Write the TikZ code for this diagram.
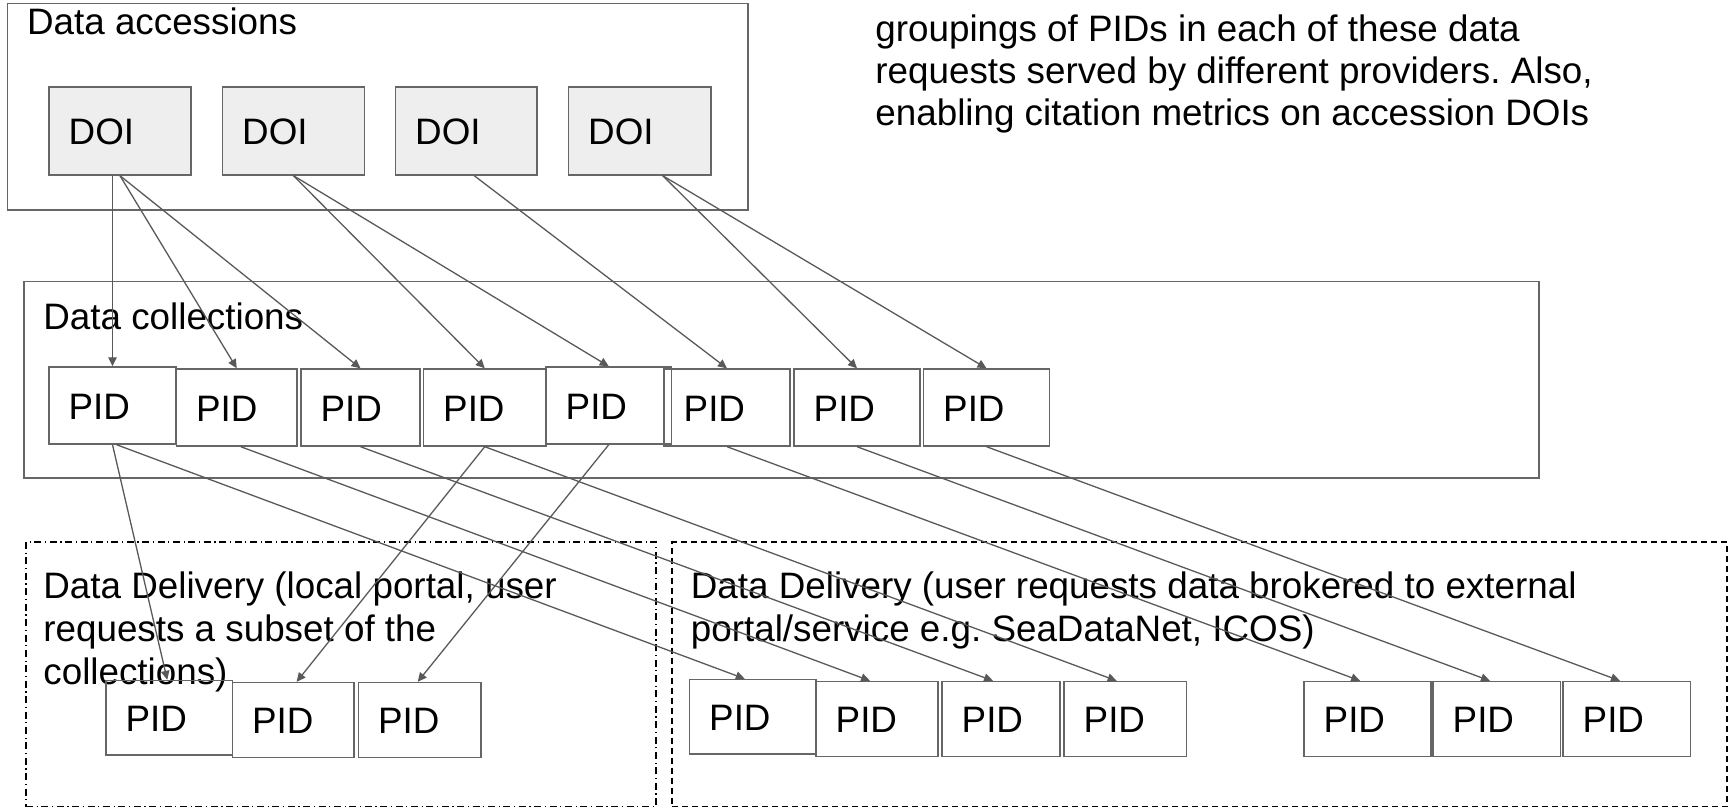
\documentclass[tikz,border=0pt]{standalone}
\usepackage{fontspec}
\setmainfont{Liberation Sans}
\usetikzlibrary{arrows.meta,fit}
\definecolor{edge}{HTML}{666666}
\definecolor{wire}{HTML}{595959}
\definecolor{doifill}{HTML}{EEEEEE}
\newcommand\mkbox[7]{\node[#7, fit={(#2,#3) (#4,#5)}, label={[boxtxt]west:#6}] (#1) {};}
\frenchspacing
\begin{document}
\frenchspacing
\begin{tikzpicture}[x=0.5pt,y=-0.5pt,
  font=\fontsize{18.4pt}{21.5pt}\selectfont\frenchspacing,
  frame/.style={draw=edge, line width=0.7pt, inner sep=0pt, rectangle},
  pid/.style={frame},
  doi/.style={frame, fill=doifill},
  boxtxt/.style={anchor=west, inner sep=0pt, xshift=10pt, yshift=-0.6pt},
  title/.style={anchor=base west, inner sep=0pt},
  para/.style={anchor=north west, inner sep=0pt, align=left},
  link/.style={draw=wire, line width=0.65pt, -{Triangle[length=4.5pt,width=4.2pt]}},
  ddot/.style={draw=black, line width=0.6pt, inner sep=0pt, rectangle, dash pattern=on 3.5pt off 1.8pt on 0.6pt off 1.8pt},
  ddash/.style={draw=black, line width=0.6pt, inner sep=0pt, rectangle, dash pattern=on 3pt off 2pt},
]
\useasboundingbox (0,0) rectangle (1730,808);

% containers
\node[frame, fit={(7.7,3.5) (748,210)}] (acc) {};
\node[frame, fit={(24,281.5) (1539,478)}] (coll) {};
\node[ddot, fit={(26,542) (656,806.5)}] (dloc) {};
\node[ddash, fit={(672,542) (1727,806.5)}] (dext) {};

% titles and note
\node[title] (acct) at (26.7,34.5) {Data accessions};
\node[title] (collt) at (43,329.5) {Data collections};
\node[para] (dloct) at (43,571.5) {Data Delivery (local portal, user\\requests a subset of the\\collections)};
\node[para] (dextt) at (690.5,571.5) {Data Delivery (user requests data brokered to external\\portal/service e.g. SeaDataNet, ICOS)};
\node[para, font=\fontsize{18.4pt}{21pt}\selectfont\frenchspacing] (note) at (875,14.5) {groupings of PIDs in each of these data\\requests served by different providers. Also,\\enabling citation metrics on accession DOIs};

% DOI boxes
\mkbox{d1}{49}{87}{191}{175}{DOI}{doi}
\mkbox{d2}{222.5}{87}{364.5}{175}{DOI}{doi}
\mkbox{d3}{395.5}{87}{537}{175}{DOI}{doi}
\mkbox{d4}{568.5}{87}{711}{175}{DOI}{doi}

% collection PIDs
\mkbox{c1}{49}{367}{176}{444}{PID}{pid}
\mkbox{c2}{176.5}{369}{297}{446}{PID}{pid}
\mkbox{c3}{301}{369}{420}{446}{PID}{pid}
\mkbox{c4}{423.5}{369}{546}{446}{PID}{pid}
\mkbox{c5}{546}{367}{671.5}{444}{PID}{pid}
\mkbox{c6}{664}{369}{790}{446}{PID}{pid}
\mkbox{c7}{794}{369}{920}{446}{PID}{pid}
\mkbox{c8}{923.5}{369}{1049.5}{446}{PID}{pid}

% delivery PIDs
\mkbox{l1}{106}{680.5}{232.5}{755}{PID}{pid}
\mkbox{l2}{232.5}{682.5}{354}{757.5}{PID}{pid}
\mkbox{l3}{358.5}{682.5}{481}{757.5}{PID}{pid}
\mkbox{r1}{689.5}{679.5}{816}{754}{PID}{pid}
\mkbox{r2}{816}{681.5}{938}{756.5}{PID}{pid}
\mkbox{r3}{942}{681.5}{1060}{756.5}{PID}{pid}
\mkbox{r4}{1064}{681.5}{1186.5}{756.5}{PID}{pid}
\mkbox{s1}{1304}{681.5}{1431}{756.5}{PID}{pid}
\mkbox{s2}{1433}{681.5}{1560.5}{756.5}{PID}{pid}
\mkbox{s3}{1563}{681.5}{1690.5}{756.5}{PID}{pid}

% DOI -> collection
\draw[link] (c1.north |- d1.south) -- (c1.north);
\draw[link] (d1.south) -- (c2.north);
\draw[link] (d1.south) -- (c3.north);
\draw[link] (d2.south) -- (c4.north);
\draw[link] (d2.south) -- (c5.north);
\draw[link] ([xshift=4pt]d3.south) -- (c6.north);
\draw[link] ([xshift=11.5pt]d4.south) -- (c7.north);
\draw[link] ([xshift=11.5pt]d4.south) -- (c8.north);

% collection -> delivery
\draw[link] (c1.south) -- ([xshift=-1pt]l1.north);
\draw[link] ([xshift=2pt]c1.south) -- ([xshift=-4pt]r1.north);
\draw[link] ([xshift=2pt]c2.south) -- ([xshift=-3.5pt]r2.north);
\draw[link] (c3.south) -- ([xshift=-4pt]r3.north);
\draw[link] (c4.south) -- ([xshift=1.7pt]l2.north);
\draw[link] (c4.south) -- ([xshift=-4.3pt]r4.north);
\draw[link] (c5.south) -- ([xshift=-1pt]l3.north);
\draw[link] (c6.south) -- ([xshift=-3.7pt]s1.north);
\draw[link] (c7.south) -- ([xshift=-3.4pt]s2.north);
\draw[link] (c8.south) -- ([xshift=-3.4pt]s3.north);
\end{tikzpicture}
\end{document}
